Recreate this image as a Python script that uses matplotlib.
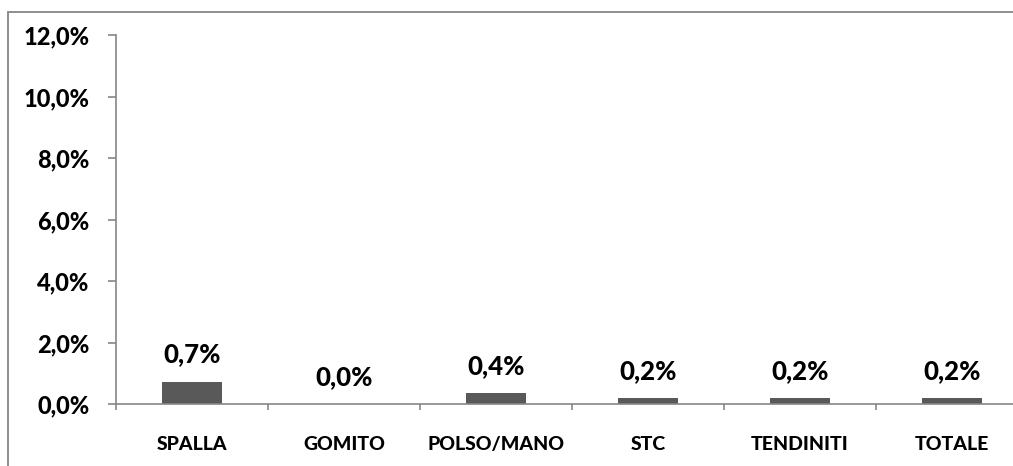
import matplotlib.pyplot as plt
import matplotlib.patches as mpatches
from matplotlib import font_manager as fm
from matplotlib.ticker import FuncFormatter
import numpy as np

categories = ['SPALLA', 'GOMITO', 'POLSO/MANO', 'STC', 'TENDINITI', 'TOTALE']
values = [0.0073, 0.0, 0.0036, 0.0018, 0.0018, 0.0018]

bar_color = '#595959'
axis_color = '#868686'


def bold(size):
    return fm.FontProperties(family='Lato', weight=900, size=size)


fig = plt.figure(figsize=(10.13, 4.66), dpi=100)
ax = fig.add_axes([116 / 1013, 1 - 404 / 466, 912 / 1013, 369 / 466])

x = np.arange(len(categories))
bars = ax.bar(x, values, width=0.4, color=bar_color, zorder=2)

for xi, v in zip(x, values):
    ax.annotate(f'{v * 100:.1f}%'.replace('.', ','), xy=(xi, v),
                xytext=(0, 19.5), textcoords='offset points',
                ha='center', va='center', fontproperties=bold(18.5))

ax.set_xlim(-0.5, len(categories) - 0.5)
ax.set_ylim(0, 0.12)
ax.set_yticks(np.arange(0, 0.121, 0.02))
ax.yaxis.set_major_formatter(FuncFormatter(lambda v, _: f'{v * 100:.1f}%'.replace('.', ',')))

# boundaries get the tick marks, centres carry the labels
ax.set_xticks(np.arange(-0.5, len(categories), 1.0))
ax.set_xticklabels([])
ax.set_xticks(x, minor=True)
ax.set_xticklabels(categories, minor=True)

ax.tick_params(axis='y', direction='out', length=6, width=1.2, color=axis_color, pad=13)
ax.tick_params(axis='x', which='major', direction='out', length=4.5, width=1.2,
               color=axis_color)
ax.tick_params(axis='x', which='minor', length=0, pad=23)
for lab in ax.get_yticklabels():
    lab.set_fontproperties(bold(17))
for lab in ax.get_xticklabels(minor=True):
    lab.set_fontproperties(bold(14))

for side in ('top', 'right'):
    ax.spines[side].set_visible(False)
for side in ('left', 'bottom'):
    ax.spines[side].set_color(axis_color)
    ax.spines[side].set_linewidth(1.2)

# chart area frame
frame = mpatches.Rectangle((8 / 1013, -0.1), 1.1, 1 - 12 / 466 + 0.1,
                           transform=fig.transFigure, fill=False,
                           edgecolor=axis_color, linewidth=1.3)
fig.patches.append(frame)

fig.savefig('out.png', dpi=100)
